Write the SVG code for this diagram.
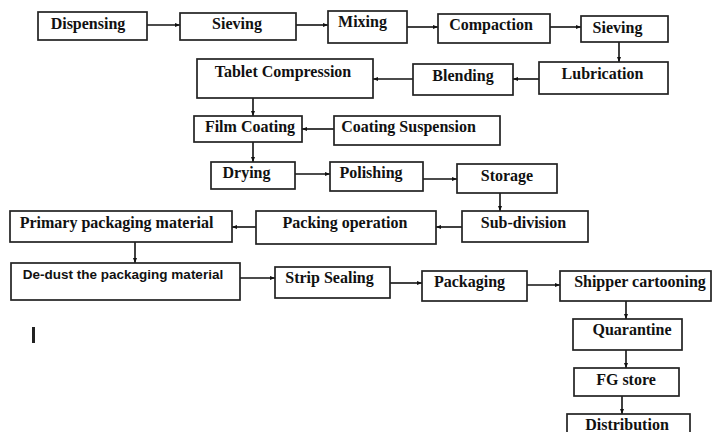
<svg xmlns="http://www.w3.org/2000/svg" width="712" height="432" viewBox="0 0 712 432">
<defs>
<marker id="ah" viewBox="0 0 10 10" refX="10" refY="5" markerWidth="5" markerHeight="5" orient="auto" markerUnits="userSpaceOnUse">
<path d="M0,1 L10,5 L0,9 z" fill="#111"/>
</marker>
<style>
.box{fill:#fff;stroke:#222;stroke-width:1.7}
.c{stroke:#111;stroke-width:1.6;fill:none;marker-end:url(#ah)}
</style>
</defs>
<rect width="712" height="432" fill="#fff"/>
<g id="connectors">
<line class="c" x1="147" y1="25" x2="180" y2="25"/>
<line class="c" x1="296" y1="25" x2="328" y2="25"/>
<line class="c" x1="407" y1="27" x2="438" y2="27"/>
<line class="c" x1="550" y1="27" x2="581" y2="27"/>
<line class="c" x1="619" y1="42" x2="619" y2="62"/>
<line class="c" x1="539" y1="79" x2="513" y2="79"/>
<line class="c" x1="413" y1="79" x2="373" y2="79"/>
<line class="c" x1="253" y1="98" x2="253" y2="116"/>
<line class="c" x1="334" y1="129" x2="302" y2="129"/>
<line class="c" x1="253" y1="142" x2="253" y2="162"/>
<line class="c" x1="295" y1="174" x2="330" y2="174"/>
<line class="c" x1="423" y1="179" x2="457" y2="179"/>
<line class="c" x1="500" y1="193" x2="500" y2="211"/>
<line class="c" x1="462" y1="227" x2="436" y2="227"/>
<line class="c" x1="256" y1="227" x2="232" y2="227"/>
<line class="c" x1="135" y1="242" x2="135" y2="263"/>
<line class="c" x1="240" y1="278" x2="275" y2="278"/>
<line class="c" x1="390" y1="283" x2="422" y2="283"/>
<line class="c" x1="527" y1="285" x2="560" y2="285"/>
<line class="c" x1="626" y1="301" x2="626" y2="319"/>
<line class="c" x1="626" y1="350" x2="626" y2="368"/>
<line class="c" x1="622" y1="396" x2="622" y2="414"/>
</g>
<g font-family="'Liberation Serif', 'Times New Roman', serif" font-weight="bold" font-size="16" fill="#111" text-anchor="middle">
<g id="dispensing"><rect class="box" x="38" y="12" width="109" height="28"/><text x="88" y="29">Dispensing</text></g>
<g id="sieving1"><rect class="box" x="180" y="13" width="116" height="27"/><text x="237" y="29">Sieving</text></g>
<g id="mixing"><rect class="box" x="328" y="11" width="79" height="32"/><text x="362.5" y="27">Mixing</text></g>
<g id="compaction"><rect class="box" x="438" y="14" width="112" height="29"/><text x="491" y="30">Compaction</text></g>
<g id="sieving2"><rect class="box" x="581" y="16" width="87" height="26"/><text x="617.5" y="33">Sieving</text></g>
<g id="lubrication"><rect class="box" x="539" y="62" width="129" height="32"/><text x="602.5" y="79">Lubrication</text></g>
<g id="blending"><rect class="box" x="413" y="64" width="100" height="31"/><text x="463" y="81">Blending</text></g>
<g id="tablet-compression"><rect class="box" x="197" y="59" width="176" height="39"/><text x="283" y="77">Tablet Compression</text></g>
<g id="film-coating"><rect class="box" x="194" y="116" width="108" height="26"/><text x="250" y="132">Film Coating</text></g>
<g id="coating-suspension"><rect class="box" x="334" y="116" width="166" height="29"/><text x="408.5" y="132">Coating Suspension</text></g>
<g id="drying"><rect class="box" x="211" y="162" width="84" height="27"/><text x="246.5" y="178">Drying</text></g>
<g id="polishing"><rect class="box" x="330" y="162" width="93" height="29"/><text x="371" y="178">Polishing</text></g>
<g id="storage"><rect class="box" x="457" y="164" width="100" height="29"/><text x="507" y="181">Storage</text></g>
<g id="sub-division"><rect class="box" x="462" y="211" width="126" height="31"/><text x="523.5" y="228">Sub-division</text></g>
<g id="packing-operation"><rect class="box" x="256" y="211" width="180" height="33"/><text x="345" y="228">Packing operation</text></g>
<g id="primary-packaging"><rect class="box" x="10" y="211" width="222" height="31"/><text x="116.5" y="228">Primary packaging material</text></g>
<g id="de-dust"><rect class="box" x="11" y="263" width="229" height="37"/><text font-family="'Liberation Sans', Arial, sans-serif" font-size="13.5" x="123" y="279">De-dust the packaging material</text></g>
<g id="strip-sealing"><rect class="box" x="275" y="267" width="115" height="31"/><text x="329.5" y="283">Strip Sealing</text></g>
<g id="packaging"><rect class="box" x="422" y="271" width="105" height="30"/><text x="469.5" y="287">Packaging</text></g>
<g id="shipper-cartooning"><rect class="box" x="560" y="271" width="151" height="30"/><text x="640" y="287">Shipper cartooning</text></g>
<g id="quarantine"><rect class="box" x="573" y="319" width="109" height="31"/><text x="632" y="335">Quarantine</text></g>
<g id="fg-store"><rect class="box" x="574" y="368" width="105" height="28"/><text x="626" y="385">FG store</text></g>
<g id="distribution"><rect class="box" x="567" y="414" width="123" height="22"/><text x="627" y="430">Distribution</text></g>
</g>
<rect x="32" y="327" width="3" height="16" fill="#222"/>
</svg>
